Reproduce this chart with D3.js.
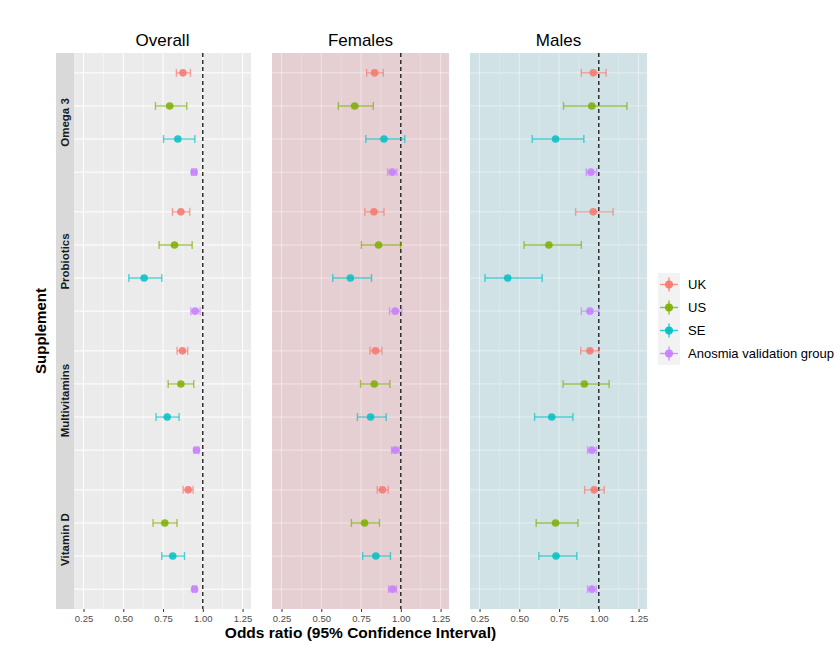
<!DOCTYPE html>
<html>
<head>
<meta charset="utf-8">
<script src="https://cdn.jsdelivr.net/npm/d3@7"></script>
<style>
  body { margin: 0; background: #fff; }
  svg { font-family: "Liberation Sans", Arial, Helvetica, sans-serif; }
</style>
</head>
<body>
<svg id="chart" width="840" height="653"></svg>
<script>
// categories
var panels = ["Overall", "Females", "Males"]
var supplements = ["Omega 3", "Probiotics", "Multivitamins", "Vitamin D"]
var cohorts = ["UK", "US", "SE", "Anosmia validation group"]
var xTicks = [0.25, 0.50, 0.75, 1.00, 1.25]

// odds ratios, supplement-major then cohort (UK, US, SE, AVG)
var overallOR = [0.875, 0.792, 0.843, 0.945, 0.862, 0.822, 0.631, 0.952, 0.872, 0.862, 0.776, 0.960, 0.908, 0.761, 0.811, 0.948]
var overallLo = [0.834, 0.702, 0.753, 0.930, 0.809, 0.725, 0.535, 0.925, 0.838, 0.782, 0.706, 0.945, 0.876, 0.687, 0.742, 0.935]
var overallHi = [0.922, 0.899, 0.950, 0.960, 0.918, 0.933, 0.742, 0.983, 0.905, 0.943, 0.851, 0.975, 0.939, 0.838, 0.885, 0.960]

var femalesOR = [0.835, 0.710, 0.894, 0.946, 0.831, 0.860, 0.683, 0.965, 0.841, 0.833, 0.810, 0.965, 0.885, 0.772, 0.843, 0.948]
var femalesLo = [0.785, 0.607, 0.780, 0.917, 0.774, 0.752, 0.572, 0.929, 0.806, 0.747, 0.727, 0.942, 0.852, 0.689, 0.760, 0.923]
var femalesHi = [0.890, 0.827, 1.025, 0.975, 0.894, 0.998, 0.816, 1.006, 0.881, 0.931, 0.908, 0.990, 0.921, 0.866, 0.935, 0.973]

var malesOR = [0.965, 0.956, 0.728, 0.950, 0.965, 0.686, 0.427, 0.944, 0.944, 0.909, 0.704, 0.956, 0.971, 0.728, 0.731, 0.956]
var malesLo = [0.890, 0.778, 0.581, 0.921, 0.854, 0.530, 0.284, 0.890, 0.886, 0.775, 0.596, 0.929, 0.911, 0.606, 0.623, 0.929]
var malesHi = [1.046, 1.177, 0.906, 0.986, 1.090, 0.890, 0.644, 1.000, 1.000, 1.065, 0.837, 0.984, 1.034, 0.869, 0.862, 0.984]

var panelData = [
    [overallOR, overallLo, overallHi],
    [femalesOR, femalesLo, femalesHi],
    [malesOR, malesLo, malesHi]
]

//drawing style
var colors = ["#F8766D", "#7CAE00", "#00BFC4", "#C77CFF"]
var panelBg = ["#ebebeb", "#e5cfd2", "#d0e2e5"]
var gridOpacity = [1, 0.45, 0.45]

//dimensions
var dims = {
    top: 53, bottom: 609,
    stripLeft: 56, stripWidth: 18,
    panelLeft: [74, 272, 470],
    panelWidth: 177
}

var svg = d3.select("#chart")

var x = d3.scaleLinear().domain([0.19, 1.303]).range([0, dims.panelWidth])
var facetY = d3.scaleBand().domain(supplements).range([dims.top, dims.bottom]).paddingInner(0)
var rowY = d3.scalePoint().domain(cohorts).range([0, facetY.bandwidth()]).padding(0.6)
var color = d3.scaleOrdinal().domain(cohorts).range(colors)

var yOf = (s, c) => facetY(s) + rowY(c)

//strip on the left
svg.append("rect")
   .attr("x", dims.stripLeft).attr("y", dims.top)
   .attr("width", dims.stripWidth).attr("height", dims.bottom - dims.top)
   .attr("fill", "#d9d9d9")

supplements.forEach(s => {
    var cy = facetY(s) + facetY.bandwidth() / 2
    svg.append("text")
       .attr("transform", `translate(${dims.stripLeft + dims.stripWidth / 2 + 4},${cy}) rotate(-90)`)
       .attr("text-anchor", "middle")
       .attr("font-size", 11.5).attr("font-weight", "bold")
       .attr("fill", "#1a1a1a")
       .text(s)
})

panels.forEach((name, p) => {
    var g = svg.append("g").attr("transform", `translate(${dims.panelLeft[p]},0)`)
    var [or, lo, hi] = panelData[p]

    g.append("rect")
     .attr("x", 0).attr("y", dims.top)
     .attr("width", dims.panelWidth).attr("height", dims.bottom - dims.top)
     .attr("fill", panelBg[p])

    //minor gridlines
    var minor = [0.375, 0.625, 0.875, 1.125]
    g.selectAll(".minor").data(minor).enter().append("line")
     .attr("x1", d => x(d)).attr("x2", d => x(d))
     .attr("y1", dims.top).attr("y2", dims.bottom)
     .attr("stroke", "#fff").attr("stroke-width", 0.5)
     .attr("stroke-opacity", gridOpacity[p])

    //major gridlines
    g.selectAll(".majorx").data(xTicks).enter().append("line")
     .attr("x1", d => x(d)).attr("x2", d => x(d))
     .attr("y1", dims.top).attr("y2", dims.bottom)
     .attr("stroke", "#fff").attr("stroke-width", 1)
     .attr("stroke-opacity", gridOpacity[p])

    supplements.forEach(s => {
        g.selectAll(null).data(cohorts).enter().append("line")
         .attr("x1", 0).attr("x2", dims.panelWidth)
         .attr("y1", c => yOf(s, c)).attr("y2", c => yOf(s, c))
         .attr("stroke", "#fff").attr("stroke-width", 1)
         .attr("stroke-opacity", gridOpacity[p])
    })

    //reference line at 1
    g.append("line")
     .attr("x1", x(1)).attr("x2", x(1))
     .attr("y1", dims.top).attr("y2", dims.bottom)
     .attr("stroke", "#000").attr("stroke-width", 1.2)
     .attr("stroke-dasharray", "4,3")

    //rows
    var rows = []
    supplements.forEach((s, i) => {
        cohorts.forEach((c, j) => {
            var k = i * cohorts.length + j
            rows.push({s: s, c: c, or: or[k], lo: lo[k], hi: hi[k]})
        })
    })

    var cap = 4
    var bars = g.selectAll(".bar").data(rows).enter().append("g")
                .attr("stroke", d => color(d.c))
                .attr("stroke-width", 1.4)
                .attr("stroke-opacity", 0.65)
    bars.append("line")
        .attr("x1", d => x(d.lo)).attr("x2", d => x(d.hi))
        .attr("y1", d => yOf(d.s, d.c)).attr("y2", d => yOf(d.s, d.c))
    bars.append("line")
        .attr("x1", d => x(d.lo)).attr("x2", d => x(d.lo))
        .attr("y1", d => yOf(d.s, d.c) - cap).attr("y2", d => yOf(d.s, d.c) + cap)
    bars.append("line")
        .attr("x1", d => x(d.hi)).attr("x2", d => x(d.hi))
        .attr("y1", d => yOf(d.s, d.c) - cap).attr("y2", d => yOf(d.s, d.c) + cap)

    g.selectAll(".pt").data(rows).enter().append("circle")
     .attr("cx", d => x(d.or)).attr("cy", d => yOf(d.s, d.c))
     .attr("r", 3.8)
     .attr("fill", d => color(d.c))
     .attr("fill-opacity", 0.85)

    //x axis
    var axis = g.append("g")
                .attr("transform", `translate(0,${dims.bottom})`)
                .call(d3.axisBottom(x).tickValues(xTicks).tickFormat(d3.format(".2f")).tickSize(3).tickPadding(3))
    axis.select(".domain").remove()
    axis.selectAll(".tick line").attr("stroke", "#333")
    axis.selectAll("text")
        .attr("font-size", 9.5).attr("fill", "#4d4d4d")
        .attr("font-family", "Liberation Sans, Arial, sans-serif")

    //panel title
    g.append("text")
     .attr("x", dims.panelWidth / 2).attr("y", 46)
     .attr("text-anchor", "middle")
     .attr("font-size", 17)
     .attr("fill", "#000")
     .text(name)
})

//axis titles
svg.append("text")
   .attr("x", (dims.panelLeft[0] + dims.panelLeft[2] + dims.panelWidth) / 2)
   .attr("y", 638)
   .attr("text-anchor", "middle")
   .attr("font-size", 15.5).attr("font-weight", "bold")
   .text("Odds ratio (95% Confidence Interval)")

svg.append("text")
   .attr("transform", `translate(46,${(dims.top + dims.bottom) / 2}) rotate(-90)`)
   .attr("text-anchor", "middle")
   .attr("font-size", 15).attr("font-weight", "bold")
   .text("Supplement")

//legend
var legend = svg.append("g").attr("transform", "translate(658,273)")
var keySize = 23
var items = legend.selectAll(".item").data(cohorts).enter().append("g")
                  .attr("transform", (d, i) => `translate(0,${i * keySize})`)
items.append("rect")
     .attr("width", 22).attr("height", keySize)
     .attr("fill", "#f2f2f2")
items.append("line")
     .attr("x1", 2).attr("x2", 20)
     .attr("y1", keySize / 2).attr("y2", keySize / 2)
     .attr("stroke", d => color(d)).attr("stroke-width", 1.4).attr("stroke-opacity", 0.8)
items.append("line")
     .attr("x1", 11).attr("x2", 11)
     .attr("y1", keySize / 2 - 7).attr("y2", keySize / 2 + 7)
     .attr("stroke", d => color(d)).attr("stroke-width", 1.4).attr("stroke-opacity", 0.8)
items.append("circle")
     .attr("cx", 11).attr("cy", keySize / 2).attr("r", 4)
     .attr("fill", d => color(d)).attr("fill-opacity", 0.9)
items.append("text")
     .attr("x", 30).attr("y", keySize / 2 + 4.5)
     .attr("font-size", 13)
     .attr("fill", "#000")
     .text(d => d)
</script>
</body>
</html>
